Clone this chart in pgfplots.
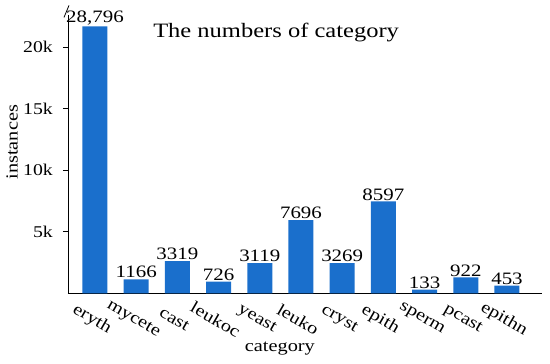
\documentclass[border=0pt]{standalone}
\usepackage{pgfplots}
\pgfplotsset{compat=1.18}
\usepackage{fontspec}
\setmainfont[FakeStretch=1.2]{Liberation Serif}
\definecolor{barblue}{HTML}{1A6FCC}
\begin{document}
\begin{tikzpicture}
\useasboundingbox (-68bp,-70.6bp) rectangle (482bp,293.4bp);
\begin{axis}[
  at={(0,0)}, anchor=south west,
  scale only axis, width=474bp, height=278bp,
  xmin=-0.655, xmax=10.85, ymin=0, ymax=22560,
  scaled y ticks=false,
  axis lines=left, axis line style={-, black, line width=0.8bp},
  ytick={5000,10000,15000,20000}, yticklabels={5k,10k,15k,20k},
  xtick={0,...,10},
  xticklabels={eryth,mycete,cast,leukoc,yeast,leuko,cryst,epith,sperm,pcast,epithn},
  /pgf/number format/assume math mode=true,
  tick align=outside, major tick length=5bp,
  y tick style={black, line width=0.8bp},
  x tick style={draw=none},
  yticklabel style={font=\fontsize{16.5}{16.5}\selectfont, inner sep=2bp, xshift=-8bp},
  xticklabel style={font=\fontsize{17}{17}\selectfont, rotate=-30, anchor=center, yshift=-19.7bp, xshift=7.9bp},
  ybar, bar width=25bp,
  nodes near coords, point meta=explicit symbolic,
  nodes near coords style={font=\fontsize{17.5}{17.5}\selectfont, inner sep=1bp, anchor=south},
  clip=false,
]
\addplot[fill=barblue, draw=none] table[meta=label] {
x y label
0 21670 28,796
1 1140 1166
2 2625 3319
3 950 726
4 2460 3119
5 5950 7696
6 2460 3269
7 7460 8597
8 300 133
9 1300 922
10 625 453
};
\node[font=\fontsize{20.5}{20.5}\selectfont] at (axis description cs:0.439,0.939) {The numbers of category};
\node[font=\fontsize{17}{17}\selectfont, rotate=90] at ([xshift=-56bp]axis description cs:0,0.544) {instances};
\node[font=\fontsize{17}{17}\selectfont] at ([yshift=-55bp]axis description cs:0.447,0) {category};
\draw[line width=0.8bp] (axis description cs:0,1) ++(-4bp,-2bp) -- ++(5bp,12bp);
\end{axis}
\end{tikzpicture}
\end{document}
